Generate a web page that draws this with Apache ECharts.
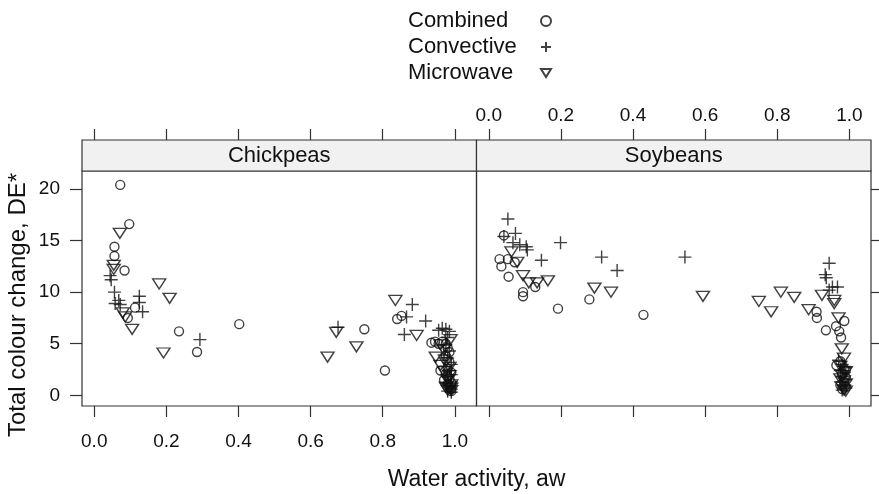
<!DOCTYPE html>
<html>
<head>
<meta charset="utf-8">
<script src="https://cdn.jsdelivr.net/npm/echarts@6/dist/echarts.min.js"></script>
<style>
  html, body { margin: 0; padding: 0; background: #fff; }
  #main { width: 879px; height: 494px; }
</style>
</head>
<body>
<div id="main"></div>
<script>
// panels and tick labels
var panels = ['Chickpeas', 'Soybeans'];
var xTicks = [0, 0.2, 0.4, 0.6, 0.8, 1.0];
var yTicks = [0, 5, 10, 15, 20];

// Chickpeas: [water activity, DE*]
var chickCombined = [
    [0.072, 20.4], [0.097, 16.6], [0.056, 14.4], [0.056, 13.5], [0.084, 12.1], [0.113, 8.5], [0.093, 7.5],
    [0.235, 6.2], [0.402, 6.9], [0.285, 4.2], [0.749, 6.4], [0.806, 2.4], [0.840, 7.4], [0.852, 7.7],
    [0.935, 5.1], [0.945, 5.2], [0.955, 5.0], [0.965, 5.2], [0.975, 5.0], [0.980, 4.6], [0.985, 4.2],
    [0.975, 3.8], [0.985, 3.2], [0.980, 2.6], [0.975, 2.1], [0.985, 1.6], [0.990, 1.2], [0.985, 0.8],
    [0.990, 0.6], [0.980, 1.9], [0.970, 1.5], [0.960, 2.4], [0.990, 2.2], [0.980, 1.1], [0.990, 0.4]
];
var chickConvective = [
    [0.044, 11.6], [0.047, 11.2], [0.056, 10.0], [0.068, 9.2], [0.058, 8.9], [0.072, 8.8], [0.125, 9.6],
    [0.125, 9.0], [0.134, 8.1], [0.293, 5.4], [0.676, 6.6], [0.882, 8.8], [0.866, 7.6], [0.919, 7.2],
    [0.860, 5.9], [0.955, 6.3], [0.965, 6.5], [0.975, 6.4], [0.985, 6.2], [0.980, 5.6], [0.975, 4.9],
    [0.985, 4.3], [0.980, 3.6], [0.990, 3.0], [0.985, 2.4], [0.980, 1.8], [0.990, 1.3], [0.985, 0.9],
    [0.990, 0.6], [0.980, 0.4], [0.970, 3.9], [0.990, 2.0], [0.975, 1.2], [0.990, 0.3]
];
var chickMicrowave = [
    [0.071, 15.7], [0.054, 12.6], [0.054, 12.2], [0.180, 10.8], [0.209, 9.4], [0.079, 8.0], [0.086, 7.6],
    [0.105, 6.4], [0.192, 4.1], [0.671, 6.1], [0.647, 3.7], [0.727, 4.7], [0.835, 9.2], [0.894, 5.8],
    [0.988, 5.4], [0.947, 3.7], [0.960, 4.9], [0.970, 4.4], [0.975, 3.2], [0.960, 2.9], [0.985, 2.7],
    [0.970, 2.3], [0.980, 1.5], [0.990, 1.0], [0.985, 0.7], [0.990, 0.45], [0.975, 0.8], [0.985, 1.9],
    [0.980, 0.5], [0.990, 0.7]
];

// Soybeans
var soyCombined = [
    [0.042, 15.5], [0.030, 13.2], [0.035, 12.5], [0.053, 13.2], [0.055, 11.5], [0.072, 12.9], [0.095, 10.0],
    [0.095, 9.6], [0.129, 10.5], [0.192, 8.4], [0.279, 9.3], [0.429, 7.8], [0.909, 8.1], [0.910, 7.5],
    [0.935, 6.3], [0.963, 6.7], [0.986, 7.2], [0.972, 6.2], [0.977, 5.6], [0.964, 2.9], [0.975, 3.3],
    [0.985, 2.6], [0.980, 2.1], [0.990, 1.7], [0.985, 1.3], [0.975, 1.0], [0.990, 0.8], [0.980, 0.6],
    [0.990, 2.4]
];
var soyConvective = [
    [0.053, 17.1], [0.074, 15.7], [0.042, 15.4], [0.067, 14.8], [0.086, 14.6], [0.104, 14.4], [0.107, 14.1],
    [0.146, 13.1], [0.199, 14.8], [0.313, 13.4], [0.356, 12.1], [0.544, 13.4], [0.944, 12.8], [0.933, 11.7],
    [0.936, 11.4], [0.953, 10.5], [0.967, 10.5], [0.944, 10.2], [0.970, 3.4], [0.980, 3.0], [0.990, 2.7],
    [0.975, 2.4], [0.985, 2.2], [0.980, 1.8], [0.990, 1.5], [0.975, 1.3], [0.985, 1.0], [0.990, 0.7],
    [0.980, 0.5], [0.985, 2.8]
];
var soyMicrowave = [
    [0.063, 13.9], [0.079, 12.9], [0.095, 11.6], [0.111, 10.9], [0.134, 10.9], [0.164, 11.1], [0.293, 10.4],
    [0.339, 10.0], [0.594, 9.6], [0.749, 9.1], [0.783, 8.1], [0.810, 10.0], [0.847, 9.5], [0.887, 8.3],
    [0.924, 9.7], [0.958, 9.2], [0.958, 8.9], [0.970, 7.5], [0.979, 4.5], [0.985, 3.6], [0.975, 2.8],
    [0.990, 2.3], [0.980, 1.9], [0.985, 1.4], [0.990, 1.1], [0.980, 0.8], [0.985, 0.5], [0.975, 1.6],
    [0.990, 0.4]
];

var FONT = '"Liberation Sans", Arial, sans-serif';
var INK = '#111';
var LINE = '#333';

var chart = echarts.init(document.getElementById('main'));

// 符号
var markers = {
    Combined: {symbol: 'circle', symbolSize: 9},
    Convective: {symbol: 'path://M5,0V10M0,5H10', symbolSize: 13},
    Microwave: {symbol: 'path://M0,0L10,0L5,8Z', symbolSize: [13, 10]}
};

function makeSeries(name, data, idx) {
    return {
        type: 'scatter',
        name: name,
        xAxisIndex: idx === 0 ? 0 : 3,
        yAxisIndex: idx,
        data: data,
        symbol: markers[name].symbol,
        symbolSize: markers[name].symbolSize,
        itemStyle: {color: 'rgba(0,0,0,0)', borderColor: INK, borderWidth: 1.4},
        emphasis: {disabled: true}
    };
}

function xAxisFor(grid, pos, showLabels, margin) {
    return {
        type: 'value',
        gridIndex: grid,
        position: pos,
        offset: pos === 'top' ? 31 : 0,
        min: -0.034,
        max: 1.06,
        axisLine: {show: false, onZero: false},
        splitLine: {show: false},
        axisTick: {show: true, inside: false, length: 11, customValues: xTicks, lineStyle: {color: LINE, width: 1.2}},
        axisLabel: {
            show: showLabels,
            customValues: xTicks,
            margin: margin,
            fontSize: 19,
            color: INK,
            fontFamily: FONT,
            formatter: function (v) { return v.toFixed(1); }
        }
    };
}

function yAxisFor(grid, pos, showLabels) {
    return {
        type: 'value',
        gridIndex: grid,
        position: pos,
        min: -1.04,
        max: 21.75,
        axisLine: {show: false, onZero: false},
        splitLine: {show: false},
        axisTick: {show: true, inside: false, length: pos === 'left' ? 12 : 8, customValues: yTicks, lineStyle: {color: LINE, width: 1.2}},
        axisLabel: {
            show: showLabels,
            customValues: yTicks,
            margin: 22,
            fontSize: 19,
            color: INK,
            fontFamily: FONT
        }
    };
}

var gridTop = 171, gridH = 235, stripH = 31;
var grids = [
    {left: 82, top: gridTop, width: 394.5, height: gridH},
    {left: 476.5, top: gridTop, width: 394.5, height: gridH}
];

var graphics = [];
grids.forEach(function (g, i) {
    graphics.push({
        type: 'rect',
        shape: {x: g.left, y: gridTop - stripH, width: g.width, height: stripH},
        style: {fill: '#f1f1f1', stroke: LINE, lineWidth: 1.2},
        z: 10
    });
    graphics.push({
        type: 'text',
        x: g.left + g.width / 2,
        y: gridTop - stripH / 2,
        style: {text: panels[i], fontSize: 22, fontFamily: FONT, fill: INK, align: 'center', verticalAlign: 'middle'},
        z: 11
    });
});
// 轴标题
graphics.push({
    type: 'text',
    x: 476.5,
    y: 480,
    style: {text: 'Water activity, aw', fontSize: 23, fontFamily: FONT, fill: INK, align: 'center', verticalAlign: 'middle'}
});
graphics.push({
    type: 'text',
    x: 18,
    y: 305,
    rotation: Math.PI / 2,
    style: {text: 'Total colour change, DE*', fontSize: 24, fontFamily: FONT, fill: INK, align: 'center', verticalAlign: 'middle'}
});

var option = {
    animation: false,
    backgroundColor: '#fff',
    grid: grids.map(function (g) {
        return {left: g.left, top: g.top, width: g.width, height: g.height, show: true,
            borderColor: LINE, borderWidth: 1.2, backgroundColor: 'transparent'};
    }),
    legend: {
        orient: 'vertical',
        left: 403,
        top: 5,
        align: 'right',
        itemWidth: 10,
        itemHeight: 10,
        itemGap: 4,
        selectedMode: false,
        data: ['Combined', 'Convective', 'Microwave'],
        formatter: function (name) { return '{t|' + name + '}'; },
        textStyle: {
            fontSize: 22,
            color: INK,
            fontFamily: FONT,
            rich: {t: {width: 128, align: 'left', fontSize: 22, lineHeight: 24, fontFamily: FONT, color: INK}}
        }
    },
    xAxis: [
        xAxisFor(0, 'bottom', true, 26),
        xAxisFor(0, 'top', false, 15),
        xAxisFor(1, 'bottom', false, 26),
        xAxisFor(1, 'top', true, 15)
    ],
    yAxis: [
        yAxisFor(0, 'left', true),
        yAxisFor(1, 'right', false)
    ],
    graphic: graphics,
    series: [
        makeSeries('Combined', chickCombined, 0),
        makeSeries('Convective', chickConvective, 0),
        makeSeries('Microwave', chickMicrowave, 0),
        makeSeries('Combined', soyCombined, 1),
        makeSeries('Convective', soyConvective, 1),
        makeSeries('Microwave', soyMicrowave, 1)
    ]
};

chart.setOption(option);
</script>
</body>
</html>
